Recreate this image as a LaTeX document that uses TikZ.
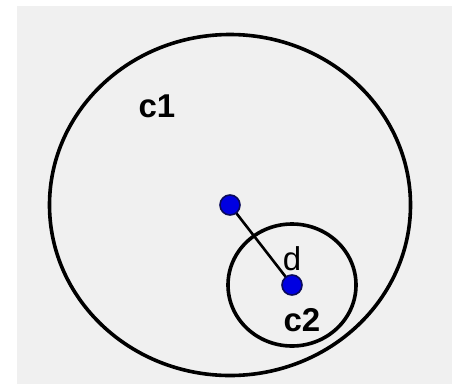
\documentclass[tikz,border=0pt]{standalone}
\usepackage{fontspec}
\setmainfont{Liberation Sans}
\usetikzlibrary{positioning}

\definecolor{panelgray}{RGB}{240,240,240}
\definecolor{dotblue}{RGB}{0,0,225}
\definecolor{dotrim}{RGB}{10,10,90}

\begin{document}
\begin{tikzpicture}[
    x=1pt, y=-1pt,
    ring/.style={draw=black, line width=3.6pt},
    pointdot/.style={circle, draw=dotrim, fill=dotblue, line width=1.6pt,
                     minimum size=20pt, inner sep=0pt},
    link/.style={draw=black, line width=2.6pt},
    tag/.style={font=\fontsize{33}{33}\selectfont\bfseries, inner sep=0pt},
    thintag/.style={font=\fontsize{33}{33}\selectfont, inner sep=0pt}
]

% canvas
\fill[white] (0,0) rectangle (452,386);
\fill[panelgray] (17,6) rectangle (452,384);
\useasboundingbox (0,0) rectangle (452,386);

\coordinate (o1) at (230,205);
\coordinate (o2) at (292,285);

% circles
\draw[ring] (o1) ellipse [x radius=180.5, y radius=170.5];
\draw[ring] (o2) ellipse [x radius=64, y radius=61];

% centres and distance
\draw[link] (o1) -- (o2);
\node[pointdot] (p1) at (o1) {};
\node[pointdot] (p2) at (o2) {};

\node[tag] (c1) at (157,106) {c1};
\node[tag] (c2) at (302,320) {c2};
\node[thintag] (d) at (292,259) {d};

\end{tikzpicture}
\end{document}
